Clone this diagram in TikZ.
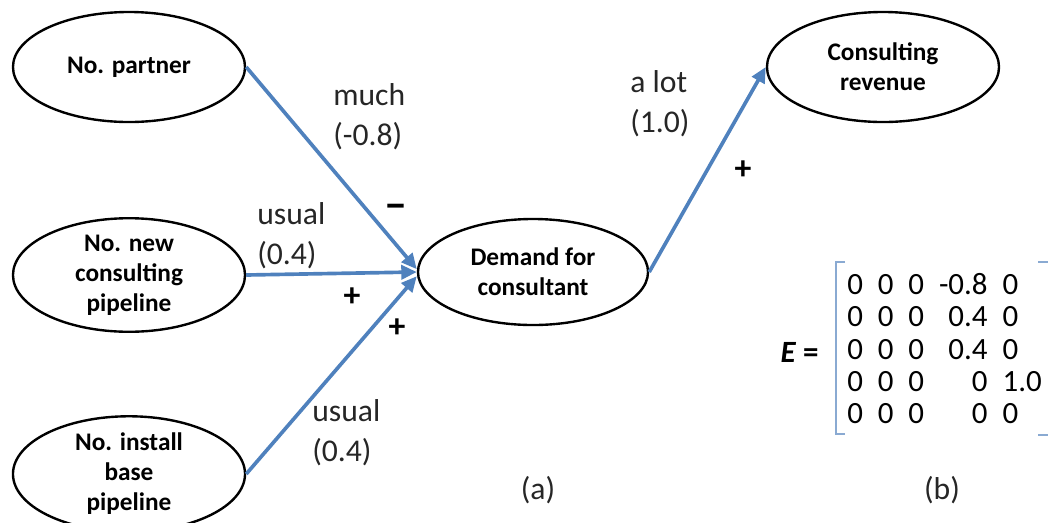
\documentclass[tikz,border=0pt]{standalone}
\usepackage{fontspec}
\setmainfont{Carlito}
\usetikzlibrary{arrows.meta,positioning,shapes.geometric}
\definecolor{linkblue}{HTML}{4F81BD}
\definecolor{brackblue}{HTML}{8AAAD2}
\definecolor{labelgray}{HTML}{262626}

\tikzset{
  factor/.style={draw,ellipse,line width=1.7pt,minimum width=5.8cm,minimum height=2.75cm,
    inner sep=0pt,align=center,font=\bfseries\fontsize{18}{21.3}\selectfont},
  link/.style={draw=linkblue,line width=2.6pt,-{Triangle[length=11pt,width=10pt]}},
  weight/.style={anchor=west,align=left,inner sep=0pt,text=labelgray,
    font=\fontsize{22.5}{28.4}\selectfont},
  sign/.style={inner sep=0pt,font=\bfseries\fontsize{24}{24}\selectfont},
  bracket/.style={draw=brackblue,line width=1.4pt},
}

\begin{document}
\begin{tikzpicture}[x=0.025cm,y=-0.025cm,>=Latex]
\useasboundingbox (0,0) rectangle (1048,522);

\node[factor] (partner) at (129,67) {No. partner};
\node[factor] (newpipe) at (129,275) {No. new\\consulting\\pipeline};
\node[factor] (basepipe) at (129,474) {No. install\\base\\pipeline};
\node[factor,minimum width=5.75cm,minimum height=2.65cm] (demand) at (533,272) {Demand for\\consultant};
\node[factor] (revenue) at (883,67) {Consulting\\revenue};

\draw[link] (partner.east) -- ([yshift=2pt]demand.west);
\draw[link] (newpipe.east) -- (demand.west);
\draw[link] (basepipe.east) -- ([yshift=-3pt]demand.west);
\draw[link] (demand.east) -- (revenue.west);

\node[weight] (wpartner) at (333,117) {much\\(-0.8)};
\node[weight] (wnew) at (257,236) {usual\\(0.4)};
\node[weight] (wbase) at (312,433) {usual\\(0.4)};
\node[weight] (wrevenue) at (630,104) {a lot\\(1.0)};

\node[sign,font=\bfseries\fontsize{30}{30}\selectfont] (spartner) at (396,212) {−};
\node[sign] (snew) at (352,297) {+};
\node[sign] (sbase) at (397,328) {+};
\node[sign] (srevenue) at (743,170) {+};

\node[weight,anchor=center] (capa) at (538,490) {(a)};
\node[weight,anchor=center] (capb) at (942,490) {(b)};

\node[inner sep=0pt,font=\fontsize{22}{22.8}\selectfont] (emat) at (944.5,352.6)
  {\setlength{\tabcolsep}{5.3pt}\begin{tabular}{@{}cccrl@{}}
   0&0&0&-0.8&0\\
   0&0&0&0.4&0\\
   0&0&0&0.4&0\\
   0&0&0&0&1.0\\
   0&0&0&0&0
  \end{tabular}};
\node[left=20pt of emat,inner sep=0pt,font=\bfseries\fontsize{22}{22}\selectfont] (elabel) {\textit{E} =};
\draw[bracket] ([xshift=-1.4pt,yshift=7.5pt]emat.north west) -- ++(-6.4pt,0)
  |- ([xshift=-1.4pt,yshift=-1pt]emat.south west);
\draw[bracket] ([xshift=-2.8pt,yshift=7.5pt]emat.north east) -- ++(9pt,0)
  |- ([xshift=-2.8pt,yshift=-1.5pt]emat.south east);
\end{tikzpicture}
\end{document}
